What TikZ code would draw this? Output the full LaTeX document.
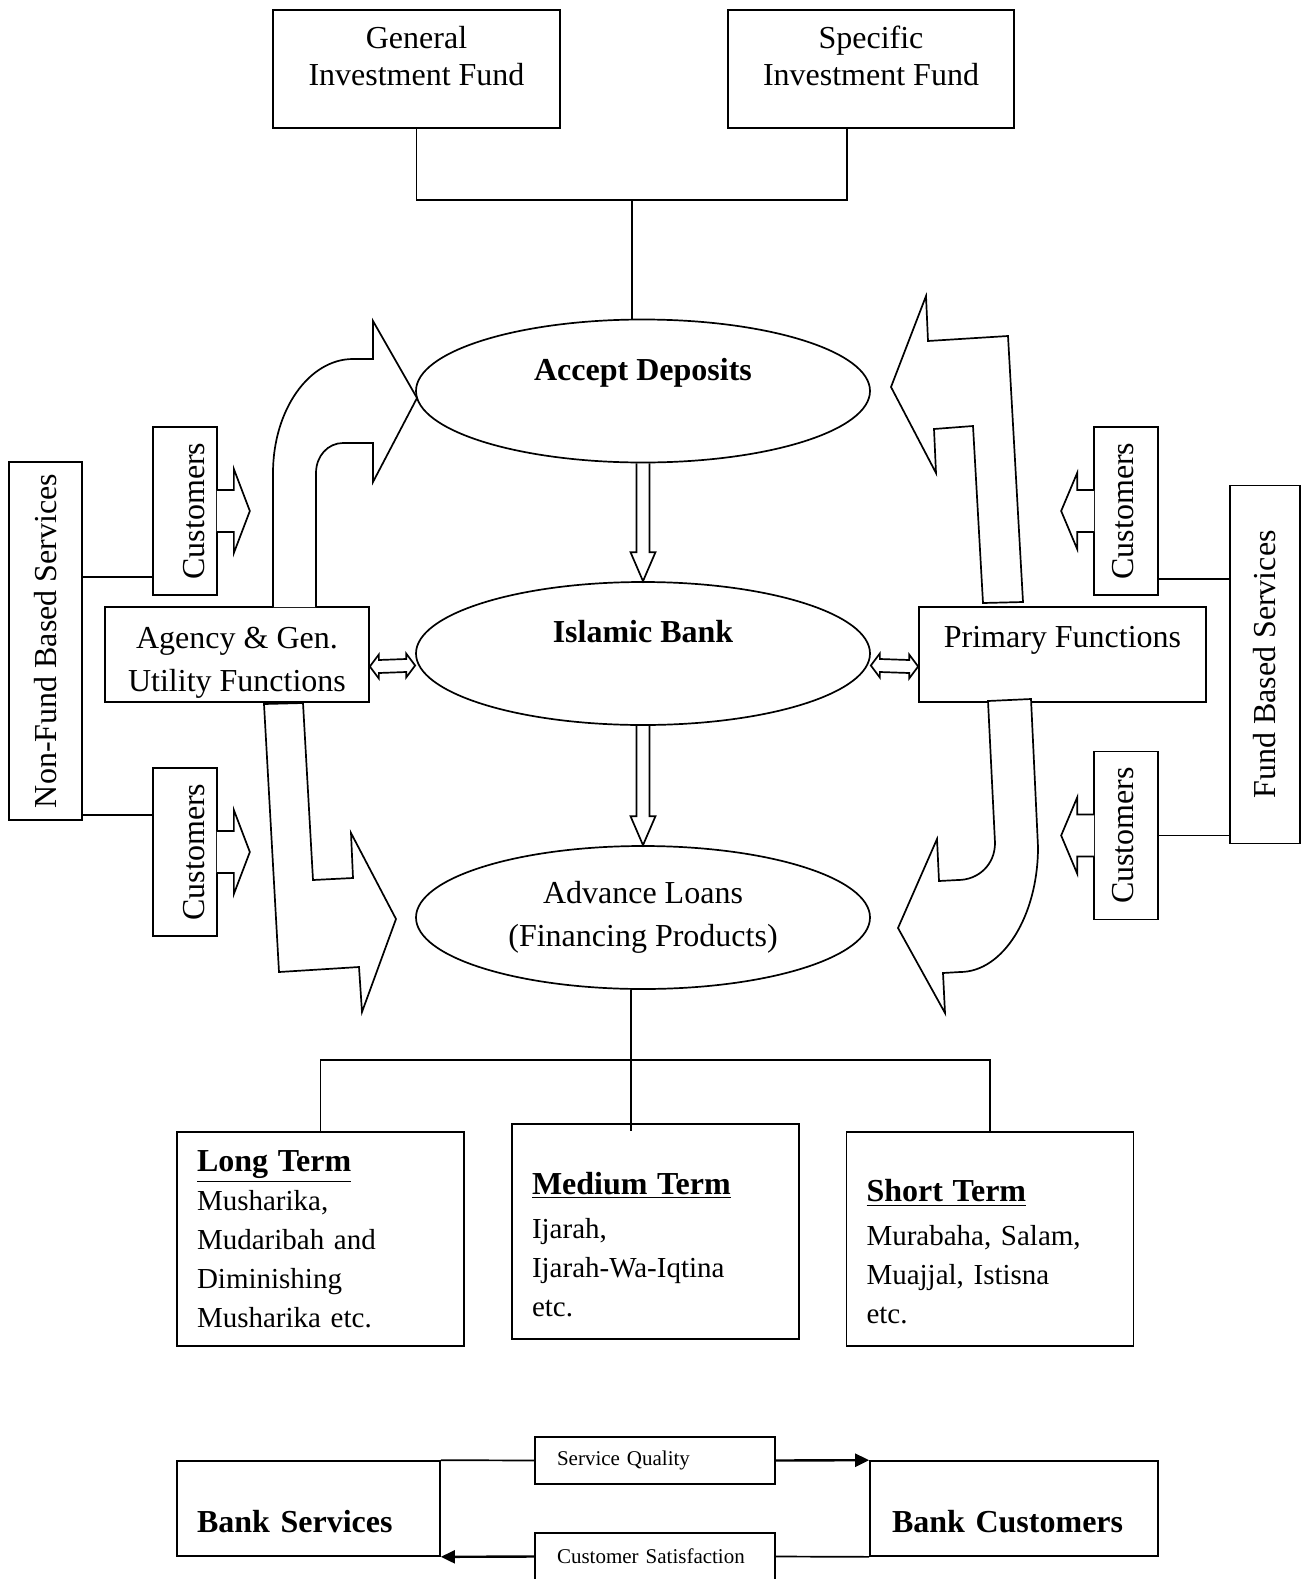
\documentclass[tikz,border=0pt]{standalone}
\usepackage{fontspec}
\setmainfont{Liberation Serif}
\usepackage{graphicx}
\usetikzlibrary{shapes,arrows.meta,positioning,calc}
\tikzset{
block/.style = {draw, fill=white, rectangle, align=center, inner sep=0pt},
oval/.style = {draw, fill=white, ellipse, align=center, inner sep=0pt, minimum width=227pt, minimum height=71.5pt},
sidebox/.style = {draw, fill=white, rectangle, inner sep=0pt, minimum width=36.5pt, minimum height=179pt},
custbox/.style = {draw, fill=white, rectangle, inner sep=0pt, minimum width=32pt, minimum height=84pt},
termbox/.style = {draw, fill=white, rectangle, align=left, inner xsep=10pt, inner ysep=0pt, text width=123.5pt, minimum height=107pt, font=\fontsize{14.5}{19.5}\selectfont},
labelbox/.style = {draw, fill=white, rectangle, align=left, inner xsep=11pt, inner ysep=0pt, text width=98pt, minimum height=23.5pt, font=\fontsize{10.5}{12}\selectfont},
bankbox/.style = {draw, fill=white, rectangle, align=left, inner ysep=0pt, minimum height=47.5pt, text height=26pt, text depth=2.3pt, font=\fontsize{16}{18}\selectfont\bfseries},
toptext/.style = {text height=11pt, text depth=#1},
rarr/.style = {insert path={-- ++(8.5pt,0pt) -- ++(0pt,10.5pt) -- ++(8pt,-21pt) -- ++(-8pt,-21pt) -- ++(0pt,10.5pt) -- ++(-8.5pt,0pt)}},
larr/.style = {insert path={-- ++(-8.5pt,0pt) -- ++(0pt,8.5pt) -- ++(-8pt,-19pt) -- ++(8pt,-19pt) -- ++(0pt,8.5pt) -- ++(8.5pt,0pt)}},
blockdown/.style = {to path={([xshift=-3.25pt]\tikztostart) -- ([xshift=-3.25pt,yshift=14.5pt]\tikztotarget) -- ([xshift=-6.25pt,yshift=14.5pt]\tikztotarget) -- (\tikztotarget) -- ([xshift=6.25pt,yshift=14.5pt]\tikztotarget) -- ([xshift=3.25pt,yshift=14.5pt]\tikztotarget) -- ([xshift=3.25pt]\tikztostart)}},
blockboth/.style = {to path={-- ([xshift=4.5pt,yshift=6pt]\tikztostart) -- ([xshift=4.5pt,yshift=3.25pt]\tikztostart) -- ([xshift=-4.5pt,yshift=3.25pt]\tikztotarget) -- ([xshift=-4.5pt,yshift=6pt]\tikztotarget) -- (\tikztotarget) -- ([xshift=-4.5pt,yshift=-6pt]\tikztotarget) -- ([xshift=-4.5pt,yshift=-3.25pt]\tikztotarget) -- ([xshift=4.5pt,yshift=-3.25pt]\tikztostart) -- ([xshift=4.5pt,yshift=-6pt]\tikztostart) -- cycle}},
flow/.style = {line width=1.2pt, -{Triangle[length=7pt,width=6.5pt]}}
}

\begin{document}
\begin{tikzpicture}[x=0.5pt, y=-0.5pt, line width=0.85pt, font=\fontsize{16}{18.6}\selectfont]
    \useasboundingbox (0,0) rectangle (1301,1579);
    \node [block, minimum width=143.5pt, minimum height=59pt, text depth=13pt] (gif) at (416.5,69) {General\\Investment Fund};
    \node [block, minimum width=143pt, minimum height=59pt, text depth=13pt] (sif) at (871,69) {Specific\\Investment Fund};
    \node [oval, toptext=22pt, font=\fontsize{16}{18}\selectfont\bfseries] (ad) at (643,391) {Accept Deposits};
    \node [oval, toptext=22pt, font=\fontsize{16}{18}\selectfont\bfseries] (ib) at (643,653.5) {Islamic Bank};
    \node [oval, font=\fontsize{16}{21.5}\selectfont] (al) at (643,917.5) {Advance Loans\\(Financing Products)};
    \node [block, minimum width=132pt, minimum height=47.5pt, text height=40pt, font=\fontsize{16}{21.5}\selectfont] (agu) at (237,654.5) {Agency \& Gen.\\Utility Functions};
    \node [block, minimum width=143.5pt, minimum height=47.5pt, toptext=18.3pt] (pf) at (1062.5,654.5) {Primary Functions};
    \node [sidebox] (nfs) at (45.5,641) {\rotatebox{90}{Non-Fund Based Services}};
    \node [sidebox, minimum width=35pt] (fbs) at (1265,664.5) {\rotatebox{90}{Fund Based Services}};
    \node [custbox] (cu1) at (185,511) {\rotatebox{90}{\raisebox{-4pt}[11pt][0pt]{Customers}}};
    \node [custbox] (cu2) at (185,852) {\rotatebox{90}{\raisebox{-4pt}[11pt][0pt]{Customers}}};
    \node [custbox] (cu3) at (1126,511) {\rotatebox{90}{\raisebox{2pt}[11pt][0pt]{Customers}}};
    \node [custbox] (cu4) at (1126,835.5) {\rotatebox{90}{\raisebox{2pt}[11pt][0pt]{Customers}}};
    \node [termbox] (lt) at (320.5,1239) {\textbf{\underline{\fontsize{16}{19.5}\selectfont Long Term}}\\Musharika,\\Mudaribah and\\Diminishing\\Musharika etc.};
    \node [termbox, minimum height=107.5pt] (mt) at (655.5,1231.5) {\rule{0pt}{24pt}\textbf{\underline{\fontsize{16}{19.5}\selectfont Medium Term}}\\[2.5pt]Ijarah,\\Ijarah-Wa-Iqtina\\etc.};
    \node [termbox] (st) at (990,1239) {\rule{0pt}{24pt}\textbf{\underline{\fontsize{16}{19.5}\selectfont Short Term}}\\[2.5pt]Murabaha, Salam,\\Muajjal, Istisna\\etc.};
    \node [bankbox, text width=111.5pt, inner xsep=10pt] (bs) at (308.5,1508.5) {Bank Services};
    \node [bankbox, text width=122pt, inner xsep=11pt] (bc) at (1014,1508.5) {Bank Customers};
    \node [labelbox] (sq) at (655,1460.5) {Service Quality};
    \node [labelbox] (cs) at (655,1556.5) {Customer Satisfaction};

    \coordinate (jt) at (632,200);
    \coordinate (jb) at (631,1060);
    \draw (gif.south) |- (jt) -| ([xshift=-12pt]sif.south);
    \draw (jt) -- (jt |- ad.north);
    \draw (jb |- al.south) -- (jb |- lt.north);
    \draw (lt.north) |- (jb) -| (st.north);

    \draw [blockdown] (ad.south) to (ib.north);
    \draw [blockdown] (ib.south) to (al.north);
    \coordinate (d1) at ([yshift=-6pt]agu.east);
    \coordinate (d2) at ([yshift=-6pt]ib.west);
    \coordinate (d3) at ([yshift=-6pt]ib.east);
    \coordinate (d4) at ([yshift=-6pt]pf.west);
    \draw [blockboth] (d1) to (d2);
    \draw [blockboth] (d3) to (d4);

    \filldraw [fill=white] ([xshift=-0.5pt,yshift=10.5pt]cu1.east) [rarr];
    \filldraw [fill=white] ([xshift=-0.5pt,yshift=10.5pt]cu2.east) [rarr];
    \filldraw [fill=white] ([xshift=0.5pt,yshift=10.5pt]cu3.west) [larr];
    \filldraw [fill=white] ([xshift=0.5pt,yshift=10.5pt]cu4.west) [larr];
    \coordinate (c1) at ([yshift=9.5pt]cu1.south west);
    \coordinate (c2) at ([yshift=-24pt]cu2.north west);
    \coordinate (c3) at ([yshift=8.5pt]cu3.south east);
    \draw (c1) -- (c1 -| nfs.east);
    \draw (c2) -- (c2 -| nfs.east);
    \draw (c3) -- (c3 -| fbs.west);
    \draw (cu4.east) -- (cu4.east -| fbs.west);

    \draw [fill=white] (273,607) -- (273,473) .. controls (273,410) and (309,359) .. (353,359) -- (373,359) -- (373,321) -- (417,398) -- (373,482) -- (373,443) -- (343,443) .. controls (328,443) and (316,456) .. (316,473) -- (316,607);
    \draw [fill=white] (264,704) -- (279,972) -- (359,967) -- (362,1012) -- (396,919) -- (351,833) -- (353,878) -- (313,880) -- (303,703) -- cycle;
    \draw [fill=white] (983,603) -- (973,426) -- (934,429) -- (936,473) -- (891,387) -- (926,296) -- (928,341) -- (1008,336) -- (1023,602) -- cycle;
    \draw [fill=white] (988,701) -- (995,843) .. controls (995,865) and (978,880) .. (958,880) -- (939,881) -- (937,839) -- (898,928) -- (945,1013) -- (943,973) -- (960,972) .. controls (1003,972) and (1038,916) .. (1038,847) -- (1031,699) -- cycle;

    \draw (bs.north east) -- (sq.west);
    \draw [flow] (sq.east) -- (bc.north west);
    \draw (bc.south west) -- (cs.east);
    \draw [flow] (cs.west) -- (bs.south east);
\end{tikzpicture}
\end{document}
